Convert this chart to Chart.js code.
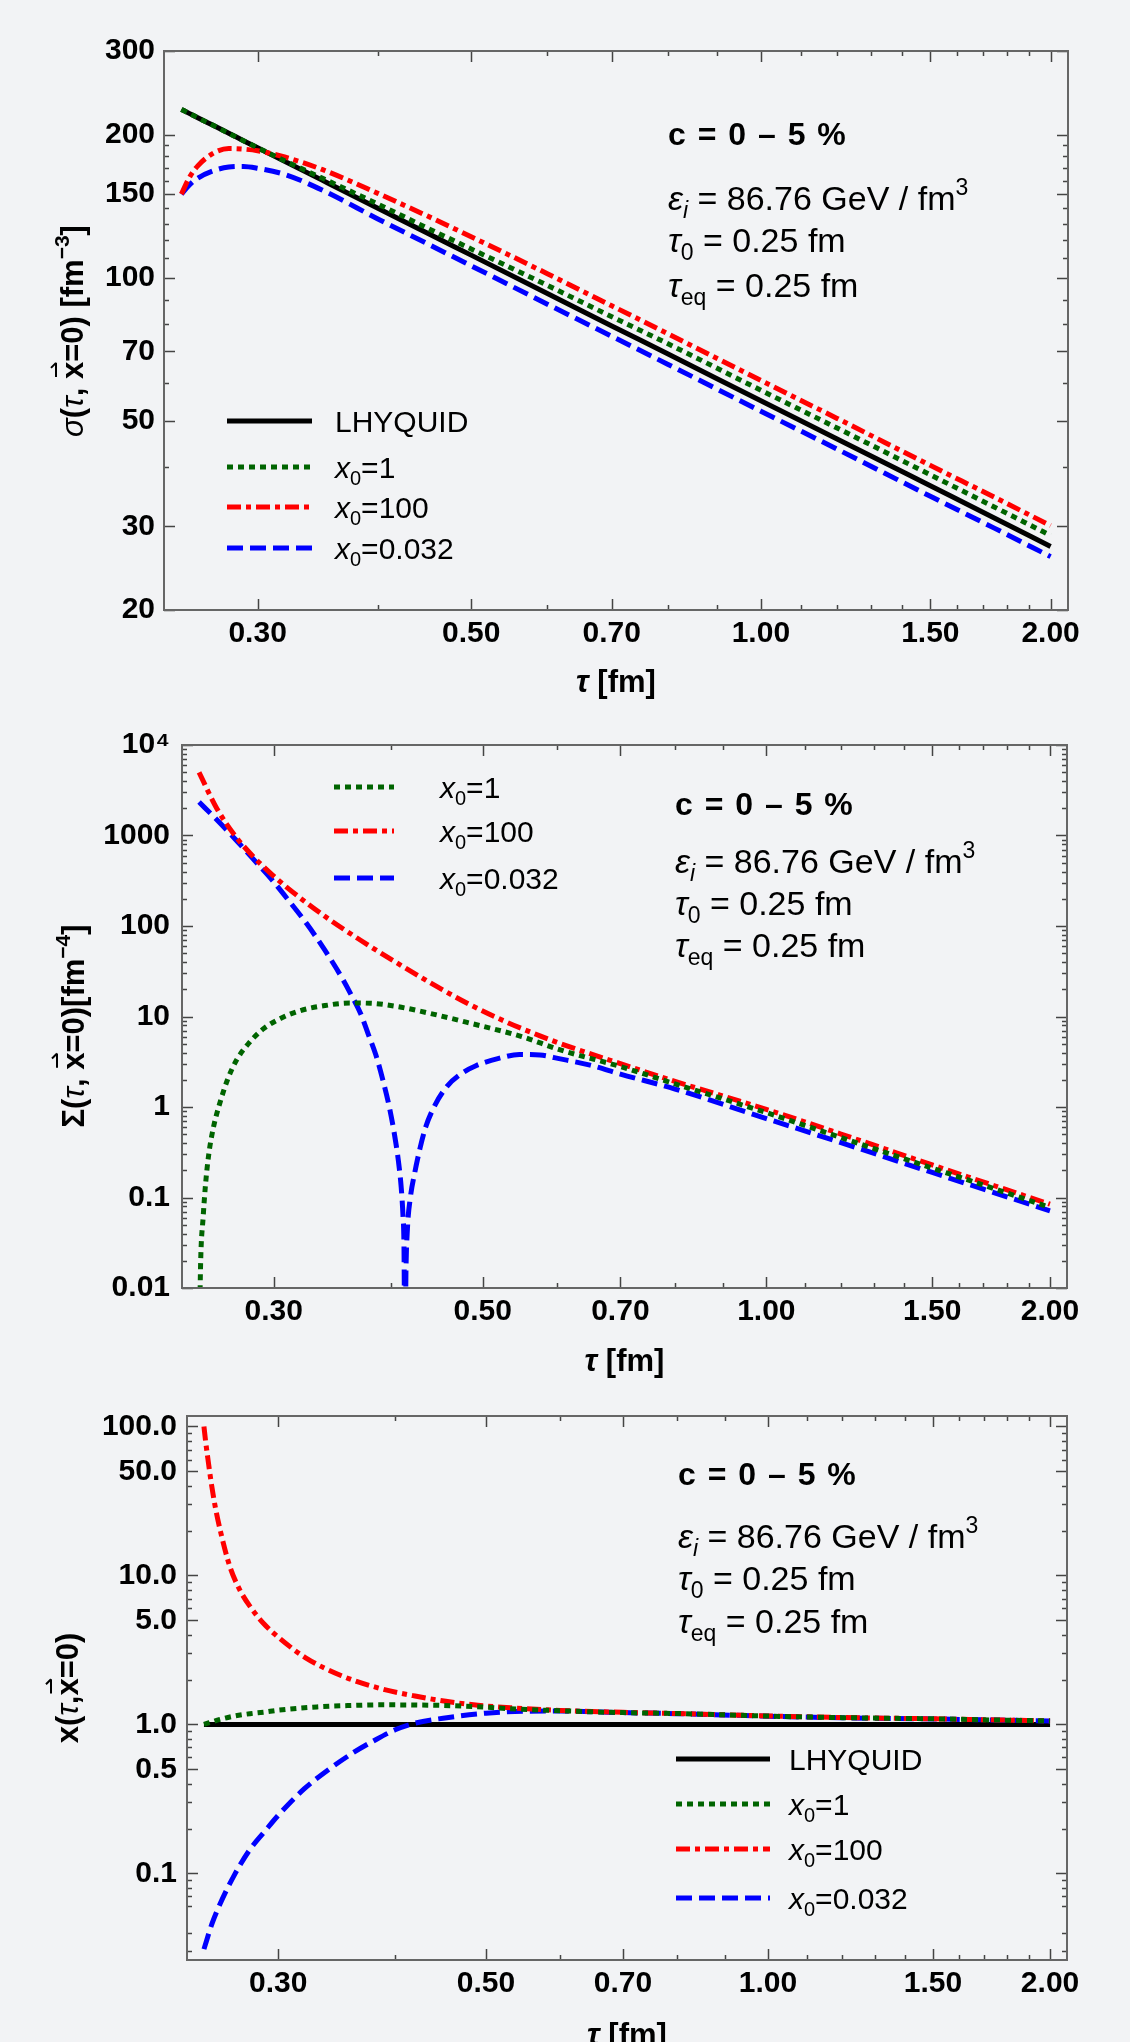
<!DOCTYPE html>
<html>
<head>
<meta charset="utf-8">
<script src="https://cdn.jsdelivr.net/npm/chart.js@4.4.1/dist/chart.umd.min.js"></script>
<style>
    html, body { margin: 0; padding: 0; background: #f2f3f5; }
    .panel { position: absolute; left: 0; }
</style>
</head>
<body>
<canvas id="sigma-chart" class="panel" width="1130" height="715" style="top:0px"></canvas>
<canvas id="bigsigma-chart" class="panel" width="1130" height="670" style="top:715px"></canvas>
<canvas id="x-chart" class="panel" width="1130" height="657" style="top:1385px"></canvas>
<script>
const FONT = '"Liberation Sans", Arial, Helvetica, sans-serif';

// tau axis, shared by the three panels
const tauMin = 0.2398;
const tauMax = 2.085;
const tauMajor = [0.3, 0.5, 0.7, 1.0, 1.5, 2.0];
const tauLabels = ['0.30', '0.50', '0.70', '1.00', '1.50', '2.00'];
const tauMinor = [0.4, 0.6, 0.8, 0.9, 1.1, 1.2, 1.3, 1.4, 1.6, 1.7, 1.8, 1.9];

// Panel 1: sigma(tau, x=0) [fm^-3]
const tau1 = [0.25, 0.255, 0.26, 0.27, 0.28, 0.29, 0.30, 0.32, 0.35, 0.40, 0.45, 0.50, 0.60, 0.70, 0.80, 1.00, 1.20, 1.50, 1.75, 2.00];
const sigmaLhyquid = [226, 221.5, 217.1, 209.0, 201.4, 194.3, 187.7, 175.8, 160.5, 140.1, 124.2, 111.6, 92.7, 79.2, 69.2, 55.1, 45.8, 36.5, 31.2, 27.2];
const sigmaX1 = [226, 221.5, 217.1, 209.0, 201.4, 194.3, 187.8, 176.3, 162.1, 142.9, 127.3, 115.0, 96.4, 82.8, 72.7, 58.0, 48.3, 38.5, 32.9, 28.7];
const sigmaX100 = [150, 163, 172, 183, 187, 186.5, 185, 179.5, 169, 150.5, 135, 122, 102, 87.3, 76.3, 60.8, 50.6, 40.3, 34.5, 30.1];
const sigmaX0032 = [150, 157, 162, 168, 171, 171.5, 170, 165, 153, 133, 118, 106, 88, 75.3, 65.8, 52.4, 43.6, 34.7, 29.7, 25.9];
const sigmaTicks = [20, 30, 50, 70, 100, 150, 200, 300];
const sigmaLabels = ['20', '30', '50', '70', '100', '150', '200', '300'];
const sigmaMinor = [40, 60, 80, 90, 110, 120, 130, 140, 160, 170, 180, 190];

// Panel 2: Sigma(tau, x=0) [fm^-4]
const tau2X1 = [0.2502, 0.251, 0.2525, 0.254, 0.256, 0.259, 0.263, 0.268, 0.274, 0.282, 0.292, 0.305, 0.32, 0.34, 0.3616, 0.38, 0.4055, 0.44, 0.4835, 0.55, 0.6045, 0.70, 0.80, 1.00, 1.20, 1.50, 1.75, 2.00];
const bigSigmaX1 = [0.003, 0.02, 0.06, 0.14, 0.3, 0.6, 1.1, 2.0, 3.3, 5.0, 7.2, 9.5, 11.6, 13.2, 14.1, 14.0, 12.9, 10.8, 8.5, 6.0, 4.27, 2.8, 1.8, 0.867, 0.46, 0.211, 0.124, 0.0775];
const tau2X100 = [0.25, 0.261, 0.273, 0.285, 0.298, 0.311, 0.34, 0.371, 0.4055, 0.443, 0.4835, 0.528, 0.576, 0.6045, 0.70, 0.80, 1.00, 1.20, 1.50, 1.75, 2.00];
const bigSigmaX100 = [4980, 2005, 995, 594, 380, 259, 128, 69.6, 39.1, 22.6, 13.7, 8.83, 6.07, 5.02, 3.01, 1.92, 0.942, 0.503, 0.229, 0.134, 0.0843];
const tau2X0032 = [0.25, 0.26, 0.273, 0.285, 0.298, 0.311, 0.325, 0.34, 0.355, 0.363, 0.371, 0.378, 0.385, 0.392, 0.398, 0.403, 0.407, 0.4098, 0.4115, 0.4125, 0.4133,
    0.4138, 0.4145, 0.416, 0.419, 0.4236, 0.429, 0.435, 0.445, 0.4585, 0.475, 0.4918, 0.52, 0.547, 0.575, 0.6045, 0.65, 0.70, 0.80, 1.00, 1.20, 1.50, 1.75, 2.00];
const bigSigmaX0032 = [2340, 1560, 916, 558, 334, 193, 107, 54, 26.1, 17, 10.8, 6.4, 3.8, 1.94, 1.0, 0.5, 0.25, 0.126, 0.063, 0.03, 0.003,
    0.003, 0.015, 0.045, 0.1, 0.19, 0.35, 0.6, 1.05, 1.7, 2.35, 2.86, 3.45, 3.8, 3.75, 3.4, 2.9, 2.31, 1.58, 0.745, 0.404, 0.189, 0.112, 0.0712];
const bigSigmaTicks = [0.01, 0.1, 1, 10, 100, 1000, 10000];
const bigSigmaLabels = ['0.01', '0.1', '1', '10', '100', '1000', '10\u2074'];

// Panel 3: x(tau, x=0)
const tau3Lhyquid = [0.25, 0.5, 1.0, 2.0];
const xLhyquid = [1, 1, 1, 1];
const tau3X1 = [0.25, 0.26, 0.27, 0.28, 0.29, 0.30, 0.33, 0.36, 0.385, 0.42, 0.45, 0.50, 0.53, 0.60, 0.70, 0.80, 1.00, 1.20, 1.50, 1.75, 2.00];
const xX1 = [1.0, 1.08, 1.14, 1.18, 1.21, 1.245, 1.31, 1.34, 1.353, 1.35, 1.34, 1.305, 1.275, 1.235, 1.2, 1.183, 1.137, 1.11, 1.09, 1.07, 1.055];
const tau3X100 = [0.25, 0.251, 0.2525, 0.2545, 0.257, 0.2605, 0.2664, 0.273, 0.281, 0.29, 0.3016, 0.321, 0.3506, 0.3846, 0.42, 0.453, 0.49, 0.535, 0.60, 0.70, 0.80, 1.00, 1.20, 1.50, 1.75, 2.00];
const xX100 = [100, 80, 60, 42, 29, 19.5, 11.5, 8.0, 6.0, 4.7, 3.75, 2.8, 2.12, 1.75, 1.55, 1.43, 1.345, 1.29, 1.24, 1.205, 1.183, 1.14, 1.112, 1.09, 1.072, 1.058];
const tau3X0032 = [0.25, 0.255, 0.26, 0.27, 0.28, 0.29, 0.30, 0.32, 0.34, 0.36, 0.38, 0.40, 0.42, 0.45, 0.50, 0.55, 0.60, 0.70, 0.80, 1.00, 1.20, 1.50, 1.75, 2.00];
const xX0032 = [0.031, 0.046, 0.062, 0.1, 0.145, 0.19, 0.245, 0.37, 0.50, 0.64, 0.78, 0.92, 1.02, 1.10, 1.19, 1.225, 1.228, 1.2, 1.18, 1.135, 1.108, 1.088, 1.07, 1.055];
const xTicks = [0.1, 0.5, 1, 5, 10, 50, 100];
const xLabels = ['0.1', '0.5', '1.0', '5.0', '10.0', '50.0', '100.0'];

// minor ticks for the log decades
function decadeMinors(from, to, skip) {
    const out = [];
    for (let d = from; d < to * 0.999; d *= 10) {
        for (let k = 2; k <= 9; k++) {
            if (!(skip || []).includes(k)) out.push(+(k * d).toPrecision(3));
        }
    }
    return out;
}

const styles = {
    lhyquid: { color: '#000000', dash: [], width: 5 },
    x1: { color: '#006400', dash: [6, 5], width: 5 },
    x100: { color: '#ff0000', dash: [14, 5, 5, 5], width: 5 },
    x0032: { color: '#0000ff', dash: [16, 7], width: 5 }
};

const legendText = {
    lhyquid: [{ t: 'LHYQUID', f: '30px' }],
    x1: [{ t: 'x', f: 'italic 30px' }, { t: '0', f: '20px', dy: 7 }, { t: '=1', f: '30px' }],
    x100: [{ t: 'x', f: 'italic 30px' }, { t: '0', f: '20px', dy: 7 }, { t: '=100', f: '30px' }],
    x0032: [{ t: 'x', f: 'italic 30px' }, { t: '0', f: '20px', dy: 7 }, { t: '=0.032', f: '30px' }]
};

const noteLines = [
    [{ t: 'c = 0 \u2013 5 %', f: 'bold 32px', ls: '1.5px' }],
    [{ t: '\u03b5', f: 'italic 34px' }, { t: 'i', f: 'italic 23px', dy: 8 }, { t: ' = 86.76 GeV / fm', f: '34px' }, { t: '3', f: '23px', dy: -15 }],
    [{ t: '\u03c4', f: 'italic 34px' }, { t: '0', f: '23px', dy: 8 }, { t: ' = 0.25 fm', f: '34px' }],
    [{ t: '\u03c4', f: 'italic 34px' }, { t: 'eq', f: '23px', dy: 8 }, { t: ' = 0.25 fm', f: '34px' }]
];

const xTitle = [{ t: '\u03c4', f: 'italic bold 31px' }, { t: ' [fm]', f: 'bold 31px' }];

function pts(xs, ys) {
    return xs.map((t, i) => ({ x: t, y: ys[i] }));
}

function line(key, xs, ys) {
    const s = styles[key];
    return {
        label: key,
        data: pts(xs, ys),
        borderColor: s.color,
        borderWidth: s.width,
        borderDash: s.dash,
        borderCapStyle: 'butt',
        pointRadius: 0,
        fill: false,
        cubicInterpolationMode: 'monotone'
    };
}

function measureRich(ctx, parts) {
    let w = 0;
    parts.forEach(p => {
        ctx.font = p.f + ' ' + FONT;
        ctx.letterSpacing = p.ls || '0px';
        w += ctx.measureText(p.t).width;
    });
    ctx.letterSpacing = '0px';
    return w;
}

function drawRich(ctx, parts, x, y) {
    parts.forEach(p => {
        ctx.font = p.f + ' ' + FONT;
        ctx.letterSpacing = p.ls || '0px';
        ctx.fillText(p.t, x, y + (p.dy || 0));
        const w = ctx.measureText(p.t).width;
        if (p.arrow) {
            // vector arrow over the letter
            const ay = y - 27;
            ctx.save();
            ctx.lineWidth = 2;
            ctx.beginPath();
            ctx.moveTo(x + 2, ay);
            ctx.lineTo(x + w - 1, ay);
            ctx.moveTo(x + w - 1, ay);
            ctx.lineTo(x + w - 6, ay - 5);
            ctx.stroke();
            ctx.restore();
        }
        x += w;
    });
    ctx.letterSpacing = '0px';
}

// frame with inward ticks on all four sides
const frameTicks = {
    id: 'frameTicks',
    afterDatasetsDraw(chart, args, opts) {
        const { ctx, chartArea: a, scales } = chart;
        const xs = scales.x, ys = scales.y;
        ctx.save();
        ctx.strokeStyle = '#444';
        ctx.lineWidth = 1.5;
        const xTick = (v, len) => {
            const px = Math.round(xs.getPixelForValue(v)) + 0.5;
            if (px < a.left || px > a.right) return;
            ctx.beginPath();
            ctx.moveTo(px, a.bottom); ctx.lineTo(px, a.bottom - len);
            ctx.moveTo(px, a.top); ctx.lineTo(px, a.top + len);
            ctx.stroke();
        };
        const yTick = (v, len) => {
            const py = Math.round(ys.getPixelForValue(v)) + 0.5;
            if (py < a.top - 1 || py > a.bottom + 1) return;
            ctx.beginPath();
            ctx.moveTo(a.left, py); ctx.lineTo(a.left + len, py);
            ctx.moveTo(a.right, py); ctx.lineTo(a.right - len, py);
            ctx.stroke();
        };
        tauMajor.forEach(v => xTick(v, 11));
        tauMinor.forEach(v => xTick(v, 5));
        opts.yMajor.forEach(v => yTick(v, 11));
        opts.yMinor.forEach(v => yTick(v, 5));
        ctx.strokeStyle = '#666';
        ctx.lineWidth = 2;
        ctx.strokeRect(a.left, a.top, a.right - a.left, a.bottom - a.top);
        ctx.restore();
    }
};

// notes, legend and axis titles
const panelText = {
    id: 'panelText',
    afterDraw(chart, args, opts) {
        const { ctx, chartArea: a } = chart;
        ctx.save();
        ctx.fillStyle = '#000';
        ctx.strokeStyle = '#000';
        ctx.textBaseline = 'alphabetic';
        ctx.textAlign = 'left';

        noteLines.forEach((parts, i) => drawRich(ctx, parts, opts.noteX, opts.noteY[i]));

        opts.legend.keys.forEach((key, i) => {
            const s = styles[key];
            const y = opts.legend.rows[i];
            ctx.save();
            ctx.strokeStyle = s.color;
            ctx.lineWidth = s.width;
            ctx.setLineDash(s.dash);
            ctx.lineCap = 'butt';
            ctx.beginPath();
            ctx.moveTo(opts.legend.x1, y);
            ctx.lineTo(opts.legend.x2, y);
            ctx.stroke();
            ctx.restore();
            drawRich(ctx, legendText[key], opts.legend.tx, y + 11);
        });

        // x title
        const xw = measureRich(ctx, xTitle);
        drawRich(ctx, xTitle, (a.left + a.right) / 2 - xw / 2, opts.xTitleY);

        // y title, rotated
        const yw = measureRich(ctx, opts.yTitle);
        ctx.translate(opts.yTitleX, opts.yTitleY);
        ctx.rotate(-Math.PI / 2);
        drawRich(ctx, opts.yTitle, -yw / 2, 0);
        ctx.restore();
    }
};

function makePanel(id, cfg) {
    const canvas = document.getElementById(id);
    const H = canvas.height;
    return new Chart(canvas.getContext('2d'), {
        type: 'line',
        data: { datasets: cfg.datasets },
        options: {
            responsive: false,
            animation: false,
            devicePixelRatio: 1,
            layout: { padding: { top: cfg.area.top, right: 1130 - cfg.area.right, left: 0, bottom: 0 } },
            plugins: {
                legend: { display: false },
                tooltip: { enabled: false },
                frameTicks: { yMajor: cfg.yTicks, yMinor: cfg.yMinor },
                panelText: cfg.text
            },
            scales: {
                x: {
                    type: 'logarithmic',
                    position: 'bottom',
                    min: tauMin,
                    max: tauMax,
                    bounds: 'data',
                    grid: { display: false, drawTicks: false },
                    border: { display: false },
                    ticks: {
                        autoSkip: false,
                        maxRotation: 0,
                        padding: 6,
                        color: '#000',
                        font: { family: FONT, size: 30, weight: 'bold' },
                        callback: (v, i) => tauLabels[i]
                    },
                    afterBuildTicks: s => { s.ticks = tauMajor.map(v => ({ value: v })); },
                    afterFit: s => { s.height = H - cfg.area.bottom; }
                },
                y: {
                    type: 'logarithmic',
                    min: cfg.yMin,
                    max: cfg.yMax,
                    bounds: 'data',
                    grid: { display: false, drawTicks: false },
                    border: { display: false },
                    ticks: {
                        autoSkip: false,
                        padding: cfg.yPad,
                        color: '#000',
                        font: { family: FONT, size: 30, weight: 'bold' },
                        callback: (v, i) => cfg.yLabels[i]
                    },
                    afterBuildTicks: s => { s.ticks = cfg.yTicks.map(v => ({ value: v })); },
                    afterFit: s => { s.width = cfg.area.left; }
                }
            }
        },
        plugins: [frameTicks, panelText]
    });
}

const sigmaChart = makePanel('sigma-chart', {
    area: { left: 164, top: 51, right: 1068, bottom: 610 },
    yMin: 20, yMax: 300, yPad: 9,
    yTicks: sigmaTicks, yLabels: sigmaLabels, yMinor: sigmaMinor,
    datasets: [
        line('x1', tau1, sigmaX1),
        line('x100', tau1, sigmaX100),
        line('x0032', tau1, sigmaX0032),
        line('lhyquid', tau1, sigmaLhyquid)
    ],
    text: {
        noteX: 668, noteY: [145, 210, 252, 297],
        legend: { keys: ['lhyquid', 'x1', 'x100', 'x0032'], x1: 227, x2: 312, tx: 335, rows: [421, 467, 507, 548] },
        xTitleY: 692,
        yTitleX: 83, yTitleY: 331,
        yTitle: [
            { t: '\u03c3', f: 'italic 31px' }, { t: '(', f: 'bold 31px' }, { t: '\u03c4', f: 'italic 31px' },
            { t: ', ', f: 'bold 31px' }, { t: 'x', f: 'bold 31px', arrow: true }, { t: '=0) [fm', f: 'bold 31px' },
            { t: '\u22123', f: 'bold 21px', dy: -14 }, { t: ']', f: 'bold 31px' }
        ]
    }
});

const bigSigmaChart = makePanel('bigsigma-chart', {
    area: { left: 182, top: 24, right: 1067, bottom: 573 },
    yMin: 0.01, yMax: 10000, yPad: 12,
    yTicks: bigSigmaTicks, yLabels: bigSigmaLabels, yMinor: decadeMinors(0.01, 10000),
    datasets: [
        line('x1', tau2X1, bigSigmaX1),
        line('x100', tau2X100, bigSigmaX100),
        line('x0032', tau2X0032, bigSigmaX0032)
    ],
    text: {
        noteX: 675, noteY: [100, 158, 200, 242],
        legend: { keys: ['x1', 'x100', 'x0032'], x1: 334, x2: 394, tx: 440, rows: [72, 116, 163] },
        xTitleY: 656,
        yTitleX: 84, yTitleY: 311,
        yTitle: [
            { t: '\u03a3', f: 'bold 31px' }, { t: '(', f: 'bold 31px' }, { t: '\u03c4', f: 'italic 31px' },
            { t: ', ', f: 'bold 31px' }, { t: 'x', f: 'bold 31px', arrow: true }, { t: '=0)[fm', f: 'bold 31px' },
            { t: '\u22124', f: 'bold 21px', dy: -14 }, { t: ']', f: 'bold 31px' }
        ]
    }
});

const xChart = makePanel('x-chart', {
    area: { left: 187, top: 31, right: 1067, bottom: 575 },
    yMin: 0.0262, yMax: 117.6, yPad: 10,
    yTicks: xTicks, yLabels: xLabels, yMinor: decadeMinors(0.01, 100, [5]).filter(v => v > 0.026),
    datasets: [
        line('x1', tau3X1, xX1),
        line('x100', tau3X100, xX100),
        line('x0032', tau3X0032, xX0032),
        line('lhyquid', tau3Lhyquid, xLhyquid)
    ],
    text: {
        noteX: 678, noteY: [100, 163, 205, 248],
        legend: { keys: ['lhyquid', 'x1', 'x100', 'x0032'], x1: 676, x2: 770, tx: 789, rows: [374, 419, 464, 513] },
        xTitleY: 660,
        yTitleX: 78, yTitleY: 303,
        yTitle: [
            { t: 'x', f: 'bold 31px' }, { t: '(', f: 'bold 31px' }, { t: '\u03c4', f: 'italic 31px' },
            { t: ',', f: 'bold 31px' }, { t: 'x', f: 'bold 31px', arrow: true }, { t: '=0)', f: 'bold 31px' }
        ]
    }
});
</script>
</body>
</html>
